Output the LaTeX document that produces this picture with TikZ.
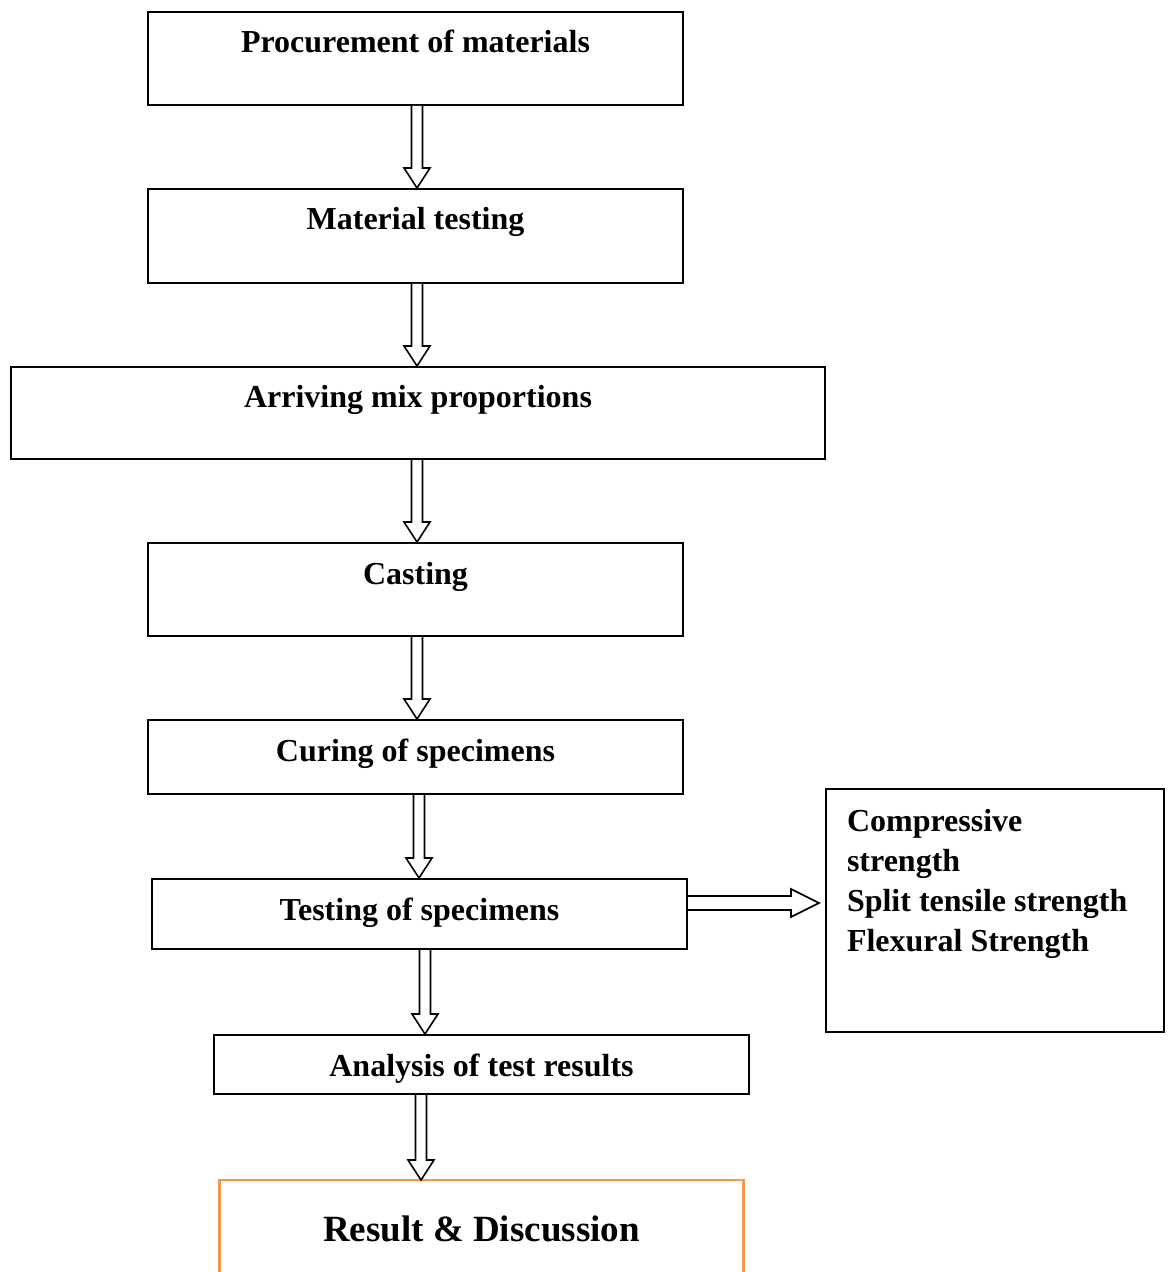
\documentclass[tikz,border=0pt]{standalone}
\usepackage{fontspec}
\setmainfont{Liberation Serif}
\usetikzlibrary{calc}
\definecolor{resorange}{RGB}{247,150,70}
\tikzset{
  stepbox/.style 2 args={draw, line width=1pt, inner ysep=0pt, anchor=north,
    font=\bfseries\fontsize{16pt}{20pt}\selectfont,
    text height=20.5pt, minimum width=#1, text depth=#2},
  hollow/.style={draw, line width=0.8pt, fill=white, line join=miter},
}
% hollow arrow going down: from, to, x (px)
\newcommand{\flowdown}[3]{%
  \draw[hollow] let \p1=(#3,0 |- #1.south), \p2=(#3,0 |- #2.north) in
    (\x1-2.75pt,\y1) -- (\x2-2.75pt,\y2+10pt) -- (\x2-6.5pt,\y2+10pt) --
    (\x2,\y2) -- (\x2+6.5pt,\y2+10pt) -- (\x2+2.75pt,\y2+10pt) -- (\x1+2.75pt,\y1);}
% hollow arrow going right: from, to, y (px)
\newcommand{\flowright}[3]{%
  \draw[hollow] let \p1=(#1.east |- 0,#3), \p2=(#2.west |- 0,#3) in
    (\x1,\y1+3.5pt) -- (\x2-17pt,\y1+3.5pt) -- (\x2-17pt,\y1+7pt) --
    (\x2-3pt,\y1) -- (\x2-17pt,\y1-7pt) -- (\x2-17pt,\y1-3.5pt) -- (\x1,\y1-3.5pt);}
\begin{document}
\begin{tikzpicture}[x=0.5pt, y=-0.5pt]
  \useasboundingbox (0,0) rectangle (1168,1272);
  \node[stepbox={267.5pt}{26pt}] (proc) at (415.5,11) {Procurement of materials};
  \node[stepbox={267.5pt}{26.5pt}] (mtest) at (415.5,188) {Material testing};
  \node[stepbox={407pt}{25.5pt}] (mix) at (418,366) {Arriving mix proportions};
  \node[stepbox={267.5pt}{26pt}] (cast) at (415.5,542) {Casting};
  \node[stepbox={267.5pt}{16.5pt}] (cure) at (415.5,719) {Curing of specimens};
  \node[stepbox={267.5pt}{14.5pt}] (test) at (419.5,878) {Testing of specimens};
  \node[stepbox={267.5pt}{9pt}] (anal) at (481.5,1034) {Analysis of test results};
  % list of tests
  \node[draw, line width=1pt, inner sep=0pt, anchor=north west,
        minimum width=169pt, minimum height=121.5pt,
        font=\bfseries\fontsize{16pt}{20pt}\selectfont] (props) at (825,788)
    {\parbox[c][121.5pt][t]{148pt}{\vspace*{10pt}Compressive\\strength\\
     Split tensile strength\\Flexural Strength}};
  % last box, open at the bottom
  \node[anchor=north, inner ysep=0pt, minimum width=261.5pt,
        text height=30.5pt, text depth=19.5pt,
        font=\bfseries\fontsize{18.5pt}{22pt}\selectfont] (result) at (481.5,1180)
    {Result \& Discussion};
  \draw[resorange, line width=1.3pt] (result.south west) -- (result.north west)
    -- (result.north east) -- (result.south east);
  \flowdown{proc}{mtest}{417}
  \flowdown{mtest}{mix}{417}
  \flowdown{mix}{cast}{417}
  \flowdown{cast}{cure}{417}
  \flowdown{cure}{test}{419}
  \flowdown{test}{anal}{425}
  \flowdown{anal}{result}{421}
  \flowright{test}{props}{903}
\end{tikzpicture}
\end{document}
